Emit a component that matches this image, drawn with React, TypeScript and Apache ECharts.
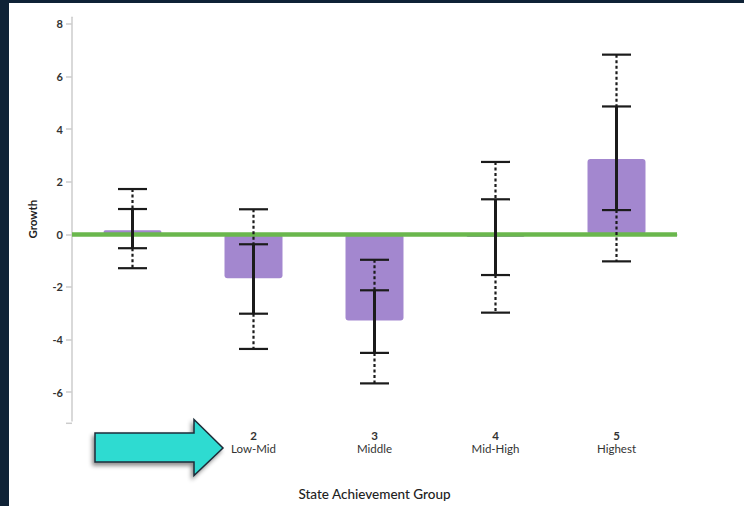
import React, { useEffect, useRef } from "react";
import * as echarts from "echarts";

const groupNumbers = ["1", "2", "3", "4", "5"];
const groupNames = ["Lowest", "Low-Mid", "Middle", "Mid-High", "Highest"];
const growth = [0.15, -1.67, -3.28, -0.1, 2.86];
const innerHigh = [0.96, -0.38, -2.13, 1.33, 4.86];
const innerBottom = [-0.53, -3.02, -4.51, -1.55, 0.92];
const outerLow = [-1.29, -4.36, -5.67, -2.98, -1.03];
const outerHigh = [1.72, 0.95, -0.97, 2.75, 6.83];
const yTicks = [-6, -4, -2, 0, 2, 4, 6, 8];

export default function App() {
  const ref = useRef<HTMLDivElement>(null);
  useEffect(() => {
    if (!ref.current) return;
    const chart = echarts.init(ref.current, null, { renderer: "svg" });
    const errData = groupNumbers.map((_, i) => [
      i,
      outerLow[i],
      innerBottom[i],
      innerHigh[i],
      outerHigh[i],
    ]);
    const option: any = {
      animation: false,
      backgroundColor: "transparent",
      textStyle: { fontFamily: "Lato" },
      grid: { left: 72, right: 67, top: 17.3, bottom: 82.7 },
      xAxis: {
        type: "category",
        data: groupNumbers,
        name: "State Achievement Group",
        nameLocation: "middle",
        nameGap: 66,
        nameTextStyle: { fontSize: 13.5, color: "#222", fontWeight: 500, fontFamily: "Lato" },
        axisLine: { lineStyle: { color: "#cccccc", width: 1.5 } },
        axisTick: { lineStyle: { color: "#cccccc", width: 1.5 }, length: 6 },
        axisLabel: {
          margin: 8,
          formatter: (v: string, i: number) =>
            i === 0 ? "" : `{n|${v}}\n{t|${groupNames[i]}}`,
          rich: {
            n: { fontSize: 11.5, fontWeight: "bold", color: "#333", lineHeight: 13, fontFamily: "Lato" },
            t: { fontSize: 11.5, color: "#333", lineHeight: 13, fontFamily: "Lato" },
          },
        },
      },
      yAxis: {
        type: "value",
        min: -7.1,
        max: 8.25,
        name: "Growth",
        nameLocation: "middle",
        nameGap: 34,
        nameTextStyle: { fontSize: 11.5, color: "#222", fontWeight: "bold", fontFamily: "Lato" },
        splitLine: { show: false },
        axisLine: { show: true, lineStyle: { color: "#cccccc", width: 1.5 } },
        axisTick: { show: true, length: 6, customValues: yTicks, lineStyle: { color: "#cccccc", width: 1.5 } },
        axisLabel: {
          customValues: yTicks,
          margin: 9,
          fontSize: 11,
          fontWeight: "bold",
          color: "#333",
          fontFamily: "Lato",
        },
      },
      series: [
        {
          type: "bar",
          data: growth,
          barWidth: 58,
          z: 2,
          itemStyle: { color: "#a387cf", borderRadius: 3 },
          markLine: {
            silent: true,
            symbol: "none",
            label: { show: false },
            lineStyle: { color: "#6ab74d", width: 4.5, type: "solid" },
            data: [{ yAxis: 0 }],
          },
        },
        {
          type: "custom",
          z: 10,
          data: errData,
          renderItem: (params: any, api: any) => {
            const i = api.value(0);
            const oLo = api.coord([i, api.value(1)]);
            const iLo = api.coord([i, api.value(2)]);
            const iHi = api.coord([i, api.value(3)]);
            const oHi = api.coord([i, api.value(4)]);
            const x = oLo[0];
            const hw = 14.5;
            const dark = "#1b1b1b";
            const cap = (y: number) => ({
              type: "line",
              shape: { x1: x - hw, y1: y, x2: x + hw, y2: y },
              style: { stroke: dark, lineWidth: 2.2 },
            });
            return {
              type: "group",
              children: [
                {
                  type: "line",
                  shape: { x1: x, y1: oHi[1], x2: x, y2: iHi[1] },
                  style: { stroke: dark, lineWidth: 2.2, lineDash: [3, 2.5] },
                },
                {
                  type: "line",
                  shape: { x1: x, y1: iLo[1], x2: x, y2: oLo[1] },
                  style: { stroke: dark, lineWidth: 2.2, lineDash: [3, 2.5] },
                },
                {
                  type: "line",
                  shape: { x1: x, y1: iHi[1], x2: x, y2: iLo[1] },
                  style: { stroke: dark, lineWidth: 3 },
                },
                cap(oHi[1]),
                cap(iHi[1]),
                cap(iLo[1]),
                cap(oLo[1]),
              ],
            };
          },
        },
      ],
      graphic: [
        {
          type: "line",
          z: 1,
          shape: { x1: 66, y1: 423.3, x2: 72, y2: 423.3 },
          style: { stroke: "#cccccc", lineWidth: 1.5 },
        },
        {
          type: "polygon",
          z: 100,
          shape: {
            points: [
              [95, 433],
              [194, 433],
              [194, 419.5],
              [223, 448],
              [194, 475.5],
              [194, 462],
              [95, 462],
            ],
          },
          style: {
            fill: "#2ddbd1",
            stroke: "#1d2b38",
            lineWidth: 1.5,
            shadowBlur: 4,
            shadowOffsetX: -2,
            shadowOffsetY: 3,
            shadowColor: "rgba(0,0,0,0.45)",
          },
        },
      ],
    };
    chart.setOption(option);
    return () => chart.dispose();
  }, []);
  return (
    <div style={{ position: "fixed", left: 0, top: 0, width: 744, height: 506, background: "#0f2236" }}>
      <div style={{ position: "absolute", left: 9, top: 3, width: 735, height: 503, background: "#ffffff" }} />
      <div ref={ref} style={{ position: "absolute", left: 0, top: 0, width: 744, height: 506 }} />
    </div>
  );
}
